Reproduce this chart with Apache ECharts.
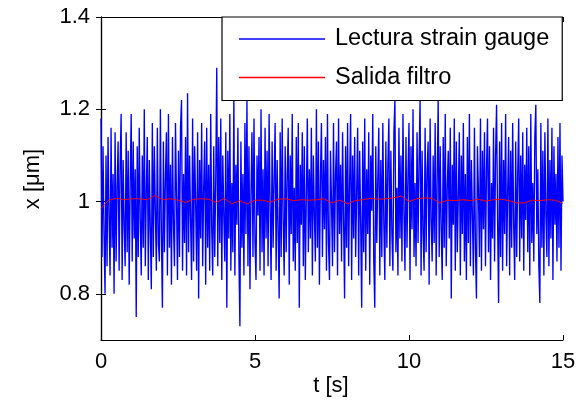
<!DOCTYPE html>
<html>
<head>
<meta charset="utf-8">
<script src="https://cdn.jsdelivr.net/npm/echarts@6/dist/echarts.min.js"></script>
<style>
html,body{margin:0;padding:0;background:#fff;}
#main{width:583px;height:409px;}
</style>
</head>
<body>
<div id="main"></div>
<script>
// ---- data ----
const tStart = 0;
const tEnd = 15;
const xTicks = [0, 5, 10, 15];
const yTicks = [0.8, 1.0, 1.2, 1.4];
const seriesNames = ['Lectura strain gauge', 'Salida filtro'];

// strain gauge reading (uniformly sampled from tStart to tEnd)
const strainValues = [
  1.18, 0.88, 1.12, 0.93, 0.80, 1.10, 0.86, 1.14, 0.97, 0.84, 1.16, 0.90, 1.06, 0.80, 1.15, 0.87, 1.03, 1.13, 0.85, 1.08,
  1.19, 0.83, 1.09, 0.95, 0.86, 1.15, 0.89, 1.11, 0.82, 1.04, 1.19, 0.87, 1.13, 0.92, 1.07, 0.75, 1.12, 0.88, 1.16, 0.96,
  0.84, 1.10, 0.90, 1.20, 0.86, 1.02, 1.14, 0.83, 1.09, 0.94, 0.81, 1.17, 0.88, 1.12, 0.98, 0.85, 1.16, 0.91, 0.87, 1.20,
  0.93, 0.77, 1.13, 0.89, 1.05, 1.15, 0.84, 1.19, 0.90, 1.08, 0.82, 1.14, 0.95, 0.86, 1.17, 1.01, 0.83, 1.11, 0.88, 1.16,
  1.22, 0.85, 1.06, 0.91, 1.14, 0.84, 1.235, 0.89, 1.10, 0.96, 0.83, 1.18, 0.87, 1.12, 1.00, 0.85, 1.15, 0.79, 1.09, 0.92,
  1.17, 0.86, 1.03, 1.13, 0.82, 1.16, 0.90, 1.08, 0.85, 1.19, 0.94, 0.84, 1.12, 0.88, 1.05, 1.29, 0.86, 1.14, 0.91, 1.18,
  0.83, 1.10, 0.97, 0.87, 1.15, 0.77, 1.11, 0.92, 1.19, 0.85, 1.04, 0.89, 1.23, 0.84, 1.08, 0.95, 1.16, 0.88, 0.73, 1.13,
  0.90, 1.06, 0.84, 1.17, 0.93, 1.22, 0.86, 1.12, 0.81, 1.02, 1.15, 0.88, 1.18, 0.91, 0.83, 1.10, 0.97, 1.14, 0.85, 1.20,
  0.89, 1.07, 0.84, 1.16, 0.92, 1.11, 0.86, 1.19, 0.99, 0.83, 1.13, 0.90, 1.05, 1.17, 0.85, 1.09, 0.94, 0.79, 1.15, 0.88,
  1.18, 0.96, 0.84, 1.12, 0.89, 1.06, 1.16, 0.82, 1.10, 0.93, 1.19, 0.87, 1.03, 0.85, 1.14, 0.91, 1.17, 0.77, 1.08, 0.95,
  1.15, 0.86, 1.12, 0.83, 1.01, 1.18, 0.89, 1.07, 0.92, 1.16, 0.84, 1.10, 0.97, 0.87, 1.20, 0.90, 1.13, 0.82, 1.05, 1.17,
  0.88, 1.09, 0.94, 1.14, 0.85, 1.19, 0.91, 0.83, 1.11, 1.00, 0.86, 1.17, 0.89, 1.06, 1.13, 0.84, 1.18, 0.93, 1.08, 0.87,
  1.15, 0.96, 0.79, 1.12, 0.90, 1.17, 0.86, 1.04, 1.19, 0.83, 1.10, 0.92, 1.14, 0.88, 1.02, 1.16, 0.84, 1.11, 0.95, 0.77,
  1.13, 0.89, 1.18, 0.85, 1.07, 0.93, 1.15, 0.82, 1.10, 0.98, 1.19, 0.87, 0.77, 1.12, 0.91, 1.05, 1.16, 0.84, 1.09, 0.88,
  1.17, 0.95, 0.83, 1.13, 0.90, 1.08, 1.18, 0.86, 1.11, 0.93, 0.85, 1.15, 1.22, 0.89, 1.03, 0.84, 1.16, 0.92, 1.10, 0.87,
  1.19, 0.97, 0.85, 1.14, 0.90, 1.06, 1.17, 0.83, 1.12, 0.94, 1.20, 0.88, 1.04, 0.86, 1.15, 0.91, 1.09, 1.22, 0.84, 1.11,
  0.93, 0.85, 1.16, 0.89, 1.07, 1.13, 0.82, 1.18, 0.96, 0.87, 1.10, 0.91, 1.17, 0.84, 1.05, 1.22, 0.88, 1.12, 0.94, 0.83,
  1.14, 0.90, 1.19, 0.86, 1.03, 1.11, 0.92, 1.16, 0.79, 1.08, 0.95, 1.18, 0.85, 1.13, 0.89, 1.01, 1.15, 0.84, 1.10, 0.93,
  1.17, 0.87, 1.06, 0.83, 1.14, 0.91, 1.19, 0.86, 1.09, 0.97, 0.84, 1.16, 0.90, 0.79, 1.12, 1.02, 0.88, 1.18, 0.85, 1.11,
  0.94, 1.15, 0.86, 1.07, 1.18, 0.89, 1.12, 0.83, 1.04, 0.92, 1.16, 0.87, 1.10, 1.21, 0.96, 0.78, 1.13, 0.88, 1.17, 0.85,
  1.09, 0.93, 1.19, 0.86, 1.02, 1.14, 0.84, 1.11, 0.90, 1.17, 0.95, 0.83, 1.13, 0.88, 1.06, 1.18, 0.87, 1.10, 0.92, 1.15,
  0.85, 1.08, 0.96, 1.16, 0.89, 1.12, 0.84, 1.19, 0.91, 1.04, 0.87, 1.14, 1.21, 0.93, 1.07, 0.86, 0.78, 1.17, 0.90, 1.11,
  0.84, 1.15, 0.97, 0.88, 1.18, 0.86, 1.09, 0.92, 1.16, 0.83, 1.12, 0.95, 1.06, 0.87, 1.14, 0.90, 1.17, 0.85, 1.10, 1.00
];

// filter output (uniformly sampled from tStart to tEnd)
const filterValues = [
  0.985, 1.003, 1.007, 1.004, 1.006, 1.006, 1.004, 1.013, 1.004, 1.006,
  1.003, 0.998, 1.005, 1.006, 1.005, 0.998, 1.007, 0.995, 1.002, 0.995,
  1.003, 1.003, 0.999, 1.005, 1.006, 1.002, 1.004, 1.003, 1.004, 1.006,
  0.997, 1.003, 0.995, 1.002, 1.004, 1.007, 1.005, 1.006, 1.008, 1.012,
  1.000, 1.006, 1.008, 1.007, 0.997, 1.003, 1.002, 1.004, 1.002, 1.005,
  1.001, 1.004, 1.005, 1.002, 0.997, 0.997, 1.003, 1.002, 1.004, 1.003,
  0.996
];

function toPairs(values) {
  const step = (tEnd - tStart) / (values.length - 1);
  return values.map((v, i) => [tStart + i * step, v]);
}

const FONT = '"Liberation Sans", Arial, sans-serif';
const chart = echarts.init(document.getElementById('main'), null, {renderer: 'canvas'});

const baseAxisLine = {show: true, lineStyle: {color: '#000', width: 1.2}};
const tick = {show: true, inside: true, length: 5, lineStyle: {color: '#000', width: 1}};

chart.setOption({
  animation: false,
  backgroundColor: '#fff',
  grid: {left: 101, right: 20, top: 17, bottom: 69, containLabel: false},
  xAxis: [
    {
      type: 'value', min: tStart, max: tEnd, interval: 5, position: 'bottom',
      axisLine: baseAxisLine, axisTick: tick, splitLine: {show: false},
      axisLabel: {color: '#000', fontSize: 22, fontFamily: FONT, margin: 11}
    },
    {
      type: 'value', min: tStart, max: tEnd, interval: 5, position: 'top',
      axisLine: baseAxisLine, axisTick: tick, splitLine: {show: false},
      axisLabel: {show: false}
    }
  ],
  yAxis: [
    {
      type: 'value', min: 0.7, max: 1.4, position: 'left',
      axisLine: baseAxisLine,
      axisTick: Object.assign({customValues: yTicks}, tick),
      splitLine: {show: false},
      axisLabel: {customValues: yTicks, color: '#000', fontSize: 22, fontFamily: FONT, margin: 11,
        formatter: v => String(Math.round(v * 10) / 10)}
    },
    {
      type: 'value', min: 0.7, max: 1.4, position: 'right',
      axisLine: baseAxisLine,
      axisTick: Object.assign({customValues: yTicks}, tick),
      splitLine: {show: false},
      axisLabel: {show: false}
    }
  ],
  legend: {
    orient: 'vertical', left: 222, top: 17,
    data: seriesNames.map(n => ({name: n, icon: 'rect'})),
    itemWidth: 86, itemHeight: 1.5, itemGap: 14.5,
    padding: [10, 13, 11, 17],
    backgroundColor: '#fff', borderColor: '#000', borderWidth: 1.2,
    textStyle: {color: '#000', fontSize: 23.5, fontFamily: FONT, padding: [0, 0, 0, 5]}
  },
  graphic: [
    {type: 'text', x: 33, y: 179, rotation: Math.PI / 2,
      style: {text: 'x [μm]', fill: '#000', font: '22px ' + FONT, textAlign: 'center', textVerticalAlign: 'middle'}},
    {type: 'text', x: 331, y: 386,
      style: {text: 't [s]', fill: '#000', font: '22px ' + FONT, textAlign: 'center', textVerticalAlign: 'middle'}}
  ],
  series: [
    {
      name: seriesNames[0], type: 'line', xAxisIndex: 0, yAxisIndex: 0,
      data: toPairs(strainValues), symbol: 'none', showSymbol: false,
      lineStyle: {color: '#0000ff', width: 1.35}, itemStyle: {color: '#0000ff'}, z: 2
    },
    {
      name: seriesNames[1], type: 'line', xAxisIndex: 0, yAxisIndex: 0,
      data: toPairs(filterValues), symbol: 'none', showSymbol: false,
      lineStyle: {color: '#ff0000', width: 1}, itemStyle: {color: '#ff0000'}, z: 3
    }
  ]
});
</script>
</body>
</html>
